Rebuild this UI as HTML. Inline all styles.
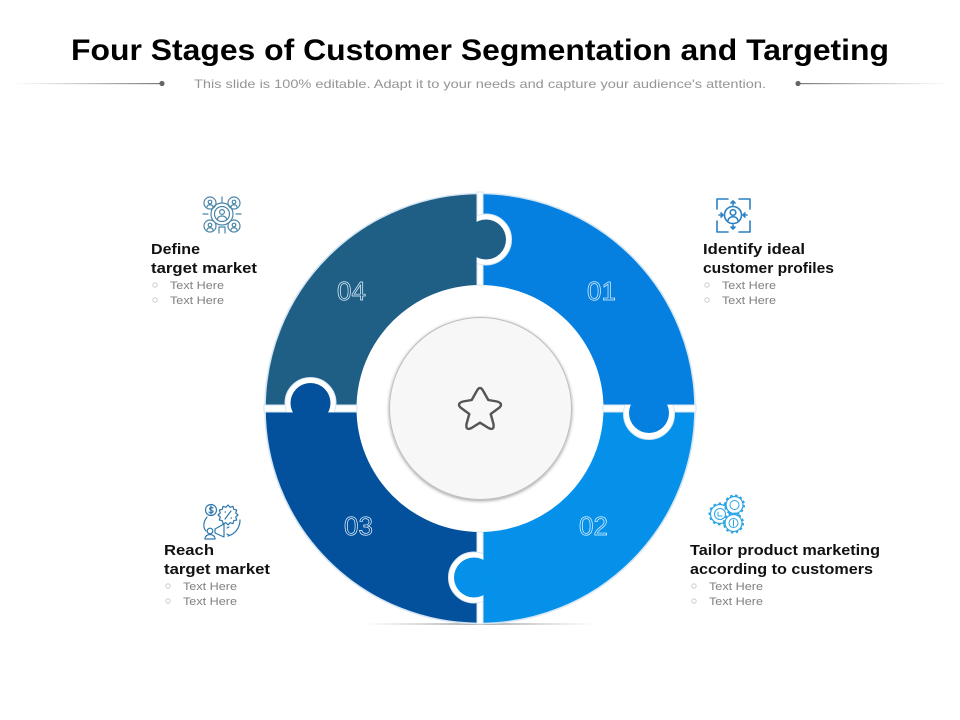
<!DOCTYPE html>
<html lang="en">
<head>
<meta charset="utf-8">
<title>Four Stages of Customer Segmentation and Targeting</title>
<style>
html,body{margin:0;padding:0;background:#fff;width:960px;height:720px;overflow:hidden}
svg{display:block}
text{font-family:"Liberation Sans",sans-serif}
.h{font-weight:bold;font-size:15px;fill:#111}
.t{font-size:11px;fill:#808080}
.b{fill:none;stroke:#c4c4c4;stroke-width:.8}
.n{font-size:26px;stroke:#e4f3ff;stroke-width:.7}
.ic{fill:none;stroke-linecap:round;stroke-linejoin:round}
</style>
</head>
<body>
<svg width="960" height="720" viewBox="0 0 960 720" xmlns="http://www.w3.org/2000/svg">
<defs>
<linearGradient id="gl" x1="0" x2="1" y1="0" y2="0"><stop offset="0" stop-color="#999" stop-opacity="0"/><stop offset="1" stop-color="#777"/></linearGradient>
<linearGradient id="gr" x1="0" x2="1" y1="0" y2="0"><stop offset="0" stop-color="#777"/><stop offset="1" stop-color="#999" stop-opacity="0"/></linearGradient>
<linearGradient id="gs" x1="0" x2="1" y1="0" y2="0"><stop offset="0" stop-color="#bbb" stop-opacity="0"/><stop offset=".5" stop-color="#aaa"/><stop offset="1" stop-color="#bbb" stop-opacity="0"/></linearGradient>
<filter id="sh" x="-10%" y="-10%" width="120%" height="120%"><feDropShadow dx="0" dy="1" stdDeviation="1.6" flood-color="#000" flood-opacity=".4"/></filter>
<clipPath id="c1"><rect x="477" y="190" width="60" height="90"/></clipPath>
<clipPath id="c2"><rect x="610" y="405" width="80" height="50"/></clipPath>
<clipPath id="c3"><rect x="430" y="540" width="53" height="80"/></clipPath>
<clipPath id="c4"><rect x="270" y="365" width="80" height="47"/></clipPath>
</defs>

<text x="71" y="60" font-size="30" font-weight="bold" fill="#000" textLength="818" lengthAdjust="spacingAndGlyphs">Four Stages of Customer Segmentation and Targeting</text>
<text x="194" y="88" font-size="12" fill="#959595" textLength="572" lengthAdjust="spacingAndGlyphs">This slide is 100% editable. Adapt it to your needs and capture your audience's attention.</text>
<rect x="12" y="83" width="150" height="1.2" fill="url(#gl)"/>
<circle cx="162" cy="83.5" r="2.6" fill="#666"/>
<rect x="798" y="83" width="152" height="1.2" fill="url(#gr)"/>
<circle cx="798" cy="83.5" r="2.6" fill="#666"/>

<!-- base shadow -->
<rect x="365" y="623" width="230" height="2" fill="url(#gs)"/>

<!-- ring segments -->
<path d="M480 193.5A215 215 0 0 1 695 408.5H603.5A123.5 123.5 0 0 0 480 285Z" fill="#0580e0"/>
<path d="M695 408.5A215 215 0 0 1 480 623.5V532A123.5 123.5 0 0 0 603.5 408.5Z" fill="#0591ea"/>
<path d="M480 623.5A215 215 0 0 1 265 408.5H356.5A123.5 123.5 0 0 0 480 532Z" fill="#03509d"/>
<path d="M265 408.5A215 215 0 0 1 480 193.5V285A123.5 123.5 0 0 0 356.5 408.5Z" fill="#1f5f85"/>
<path d="M480 193.5A215 215 0 0 1 480 623.5A215 215 0 0 1 480 193.5Z" fill="none" stroke="#d5e6f3" stroke-width="1.6"/>

<!-- separators -->
<rect x="477" y="192" width="6" height="93" fill="#fff" stroke="#d5e6f3"/>
<rect x="477" y="532" width="6" height="92" fill="#fff" stroke="#d5e6f3"/>
<rect x="264" y="405" width="93" height="7" fill="#fff" stroke="#d5e6f3"/>
<rect x="603" y="405" width="93" height="7" fill="#fff" stroke="#d5e6f3"/>

<!-- puzzle tabs -->
<circle cx="486" cy="239.5" r="25.5" fill="#fff" stroke="#d5e6f3" clip-path="url(#c1)"/>
<circle cx="649" cy="414" r="25.5" fill="#fff" stroke="#d5e6f3" clip-path="url(#c2)"/>
<circle cx="474" cy="577.5" r="25.5" fill="#fff" stroke="#d5e6f3" clip-path="url(#c3)"/>
<circle cx="310.5" cy="403" r="25.5" fill="#fff" stroke="#d5e6f3" clip-path="url(#c4)"/>
<circle cx="486" cy="239.5" r="20" fill="#1f5f85"/>
<circle cx="649" cy="413" r="20" fill="#0580e0"/>
<circle cx="474" cy="577.5" r="20" fill="#0591ea"/>
<circle cx="310.5" cy="403" r="20" fill="#03509d"/>

<!-- numbers -->
<text class="n" x="587" y="300" fill="#0580e0">01</text>
<text class="n" x="579" y="535" fill="#0591ea">02</text>
<text class="n" x="344" y="535" fill="#03509d">03</text>
<text class="n" x="337" y="300" fill="#1f5f85">04</text>

<!-- centre -->
<circle cx="480.5" cy="408.5" r="91" fill="#f7f7f7" stroke="#bdbdbd" filter="url(#sh)"/>
<path d="M476.5 391.500Q480 384.500 483.500 391.500L488.300 400L497 401.500Q503.500 403.500 499.500 407.500L490.700 414L493.500 424Q494.500 431 488.500 428L480 422.700L471.500 428Q465.500 431 466.500 424L469.300 414L460.500 407.500Q456.500 403.500 463 401.500L471.700 400Z" fill="none" stroke="#555" stroke-width="2.400" stroke-linejoin="round"/>

<!-- Define icon -->
<g class="ic" stroke="#4a86a8" stroke-width="1.2">
<circle cx="222" cy="214" r="11"/><circle cx="222" cy="214" r="7.5"/>
<circle cx="222" cy="212" r="2.4"/><path d="M217.5 219c1-4 8-4 9 0"/>
<circle cx="210" cy="203" r="6"/><circle cx="234" cy="203" r="6"/><circle cx="210" cy="226" r="6"/><circle cx="234" cy="226" r="6"/>
<circle cx="210" cy="202" r="1.8"/><circle cx="234" cy="202" r="1.8"/><circle cx="210" cy="225" r="1.8"/><circle cx="234" cy="225" r="1.8"/>
<path d="M207 207c.5-3 5.500-3 6 0M231 207c.5-3 5.500-3 6 0M207 230c.5-3 5.500-3 6 0M231 230c.5-3 5.500-3 6 0"/>
<path d="M222 197v5M203 214h5M236 214h5M219 233v-6h6v6"/>
</g>

<!-- Identify icon -->
<g class="ic" stroke="#2a80c4" stroke-width="1.6">
<path d="M717 209v-10h11M739 199h11v10M750 221v11h-11M728 232h-11v-11"/>
<circle cx="733" cy="215" r="8.500"/><circle cx="733" cy="212.500" r="2.800"/><path d="M728 220.500c1-5 9-5 10 0"/>
<path d="M733 201v4M731 203l2-2 2 2M733 229v-4M731 227l2 2 2-2M719 215h4M721 213l2 2-2 2M747 215h-4M745 213l-2 2 2 2"/>
</g>

<!-- Reach icon -->
<g class="ic" stroke="#2f78ad" stroke-width="1.2">
<circle cx="211" cy="510" r="5.500"/><path d="M213 508c-2-1.500-4 0-3 1.500s3 .5 3 2-3 2-4 .5M211 506v8"/>
<polygon points="238,515 235.700,517.100 236.700,520 233.700,520.700 233,523.700 230.100,522.700 228,525 225.900,522.700 223,523.700 222.300,520.700 219.300,520 220.300,517.100 218,515 220.300,512.900 219.300,510 222.300,509.300 223,506.300 225.900,507.300 228,505 230.100,507.300 233,506.300 233.700,509.300 236.700,510 235.700,512.900"/>
<path d="M225 519l6-8M225 512h.5M231 518h.5"/>
<path d="M207 517c-4 5-4 11-1 14M240 520c0 8-5 14-12 16"/>
<circle cx="210" cy="531" r="2.800"/><path d="M205 539c0-6 10-6 10 0z"/>
<path d="M215 529l9-5v13l-9-4zM227 528l2-1M227 534l2 1"/>
</g>

<!-- Tailor icon -->
<g class="ic" stroke="#2aa4e4">
<circle cx="720" cy="514" r="9.500" fill="#fff" stroke-width="1.200"/><circle cx="720" cy="514" r="10.500" stroke-width="2" stroke-dasharray="2.500 2.800" stroke-linecap="butt"/><circle cx="720" cy="514" r="5.500" stroke-width="1"/>
<circle cx="734.500" cy="505" r="8.500" fill="#fff" stroke-width="1.200"/><circle cx="734.500" cy="505" r="9.500" stroke-width="2" stroke-dasharray="2.500 2.500" stroke-linecap="butt"/><circle cx="734.500" cy="505" r="4.500" stroke-width="1"/>
<circle cx="733.500" cy="523" r="8.500" fill="#fff" stroke-width="1.200"/><circle cx="733.500" cy="523" r="9.500" stroke-width="2" stroke-dasharray="2.500 2.500" stroke-linecap="butt"/><circle cx="733.500" cy="523" r="4.500" stroke-width="1"/>
<path d="M718 512v4h4M733.500 520v6" stroke-width="1"/>
</g>

<!-- Labels -->
<text class="h" x="151" y="254" textLength="49" lengthAdjust="spacingAndGlyphs">Define</text>
<text class="h" x="151" y="273" textLength="106" lengthAdjust="spacingAndGlyphs">target market</text>
<circle class="b" cx="155" cy="285" r="2.200"/><text class="t" x="170" y="289" textLength="54" lengthAdjust="spacingAndGlyphs">Text Here</text>
<circle class="b" cx="155" cy="300" r="2.200"/><text class="t" x="170" y="304" textLength="54" lengthAdjust="spacingAndGlyphs">Text Here</text>

<text class="h" x="703" y="254" textLength="102" lengthAdjust="spacingAndGlyphs">Identify ideal</text>
<text class="h" x="703" y="273" textLength="131" lengthAdjust="spacingAndGlyphs">customer profiles</text>
<circle class="b" cx="707" cy="285" r="2.200"/><text class="t" x="722" y="289" textLength="54" lengthAdjust="spacingAndGlyphs">Text Here</text>
<circle class="b" cx="707" cy="300" r="2.200"/><text class="t" x="722" y="304" textLength="54" lengthAdjust="spacingAndGlyphs">Text Here</text>

<text class="h" x="164" y="555" textLength="50" lengthAdjust="spacingAndGlyphs">Reach</text>
<text class="h" x="164" y="574" textLength="106" lengthAdjust="spacingAndGlyphs">target market</text>
<circle class="b" cx="168" cy="586" r="2.200"/><text class="t" x="183" y="590" textLength="54" lengthAdjust="spacingAndGlyphs">Text Here</text>
<circle class="b" cx="168" cy="601" r="2.200"/><text class="t" x="183" y="605" textLength="54" lengthAdjust="spacingAndGlyphs">Text Here</text>

<text class="h" x="690" y="555" textLength="190" lengthAdjust="spacingAndGlyphs">Tailor product marketing</text>
<text class="h" x="690" y="574" textLength="183" lengthAdjust="spacingAndGlyphs">according to customers</text>
<circle class="b" cx="694" cy="586" r="2.200"/><text class="t" x="709" y="590" textLength="54" lengthAdjust="spacingAndGlyphs">Text Here</text>
<circle class="b" cx="694" cy="601" r="2.200"/><text class="t" x="709" y="605" textLength="54" lengthAdjust="spacingAndGlyphs">Text Here</text>
</svg>
</body>
</html>
